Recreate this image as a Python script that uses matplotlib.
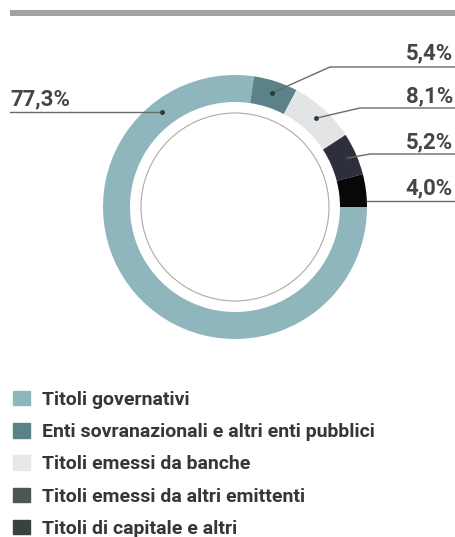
import numpy as np
import matplotlib
matplotlib.use("Agg")
import matplotlib.pyplot as plt
from matplotlib.patches import Rectangle, Circle

plt.rcParams['font.family'] = ['Roboto', 'DejaVu Sans']

# data
categorie = ["Titoli governativi",
             "Enti sovranazionali e altri enti pubblici",
             "Titoli emessi da banche",
             "Titoli emessi da altri emittenti",
             "Titoli di capitale e altri"]
valori = [77.3, 5.4, 8.1, 5.2, 4.0]
etichette = ["77,3%", "5,4%", "8,1%", "5,2%", "4,0%"]
colori = ["#8fb6bd", "#5b8189", "#e2e4e6", "#2f2f3b", "#080808"]
colori_legenda = ["#8fb6bd", "#5b8189", "#e8e8e8", "#4b5756", "#3b4040"]

W, H = 456, 537
fig = plt.figure(figsize=(W / 100, H / 100), dpi=100)
ax = fig.add_axes([0, 0, 1, 1])

cx, cy = 235, 207
R = 132
larghezza = 27

# y inverted -> counterclock in data is clockwise on screen
ax.pie(valori, colors=colori, startangle=0, counterclock=True,
       center=(cx, cy), radius=R, frame=True,
       wedgeprops=dict(width=larghezza, linewidth=0))
ax.add_patch(Circle((cx, cy), 94, fill=False, ec="#b5a6a6", lw=0.8))

ax.set_xlim(0, W)
ax.set_ylim(H, 0)
ax.set_aspect('equal')
ax.axis('off')

# grey bar on top
ax.add_patch(Rectangle((10, 10), W - 10, 6, color="#a3a3a3", lw=0))

# label positions on screen
totale = sum(valori)
cum = np.cumsum([0] + valori)
angoli = [-(360 * (cum[i] + cum[i + 1]) / 2 / totale) for i in range(len(valori))]
angoli[0] = 127.5  # the big slice is labelled on its upper-left part
r_punto = R - 12

linea_y = [112, 67, 108, 154, 201]
testo_y = [105, 59, 102, 148, 194]
linea_x = [None, 330, 360, 370, 367]
grigio = "#6a6a6a"
stile = dict(fontsize=16, color="#454545", fontweight='bold', va='baseline')

for i, (ang, lab) in enumerate(zip(angoli, etichette)):
    a = np.deg2rad(ang)
    px = cx + r_punto * np.cos(a)
    py = cy - r_punto * np.sin(a)
    if i == 0:
        ax.plot([10, px], [linea_y[i], linea_y[i]], color=grigio, lw=1)
        ax.plot(px, linea_y[i], 'o', color="#2a3a3e", ms=2.5)
        ax.text(10, testo_y[i], lab, ha='left', **stile)
    elif i == 4:
        ax.plot([linea_x[i], W], [linea_y[i], linea_y[i]], color=grigio, lw=1)
        ax.text(453, testo_y[i], lab, ha='right', **stile)
    else:
        ax.plot([px, linea_x[i], W], [py, linea_y[i], linea_y[i]], color=grigio, lw=1)
        ax.plot(px, py, 'o', color="#2a3a3e", ms=2.5)
        ax.text(453, testo_y[i], lab, ha='right', **stile)

# legend
handles = [Rectangle((0, 0), 1, 1, color=c) for c in colori_legenda]
leg = fig.legend(handles, categorie, loc='upper left',
                 bbox_to_anchor=(13 / W, 1 - 391 / H), frameon=False,
                 prop=dict(size=14, weight='bold'),
                 handlelength=0.88, handleheight=0.77,
                 handletextpad=0.62, labelspacing=0.73, borderpad=0,
                 borderaxespad=0)
for t in leg.get_texts():
    t.set_color("#363636")

fig.savefig("out.png", dpi=100)
